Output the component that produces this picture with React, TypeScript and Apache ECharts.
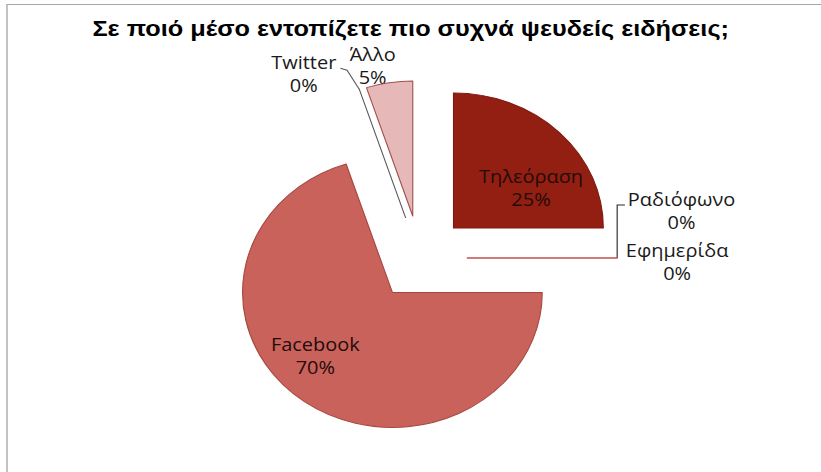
import React, { useEffect, useRef } from "react";
import * as echarts from "echarts";

// ---- data ----
const TITLE = "Σε ποιό μέσο εντοπίζετε πιο συχνά ψευδείς ειδήσεις;";
const categories = ["Τηλεόραση", "Ραδιόφωνο", "Εφημερίδα", "Facebook", "Twitter", "Άλλο"];
const values = [25, 0, 0, 70, 0, 5];

// ---- styles ----
const fillColors = ["#921f11", "#c0504d", "#c0504d", "#c9625b", "#7f7f7f", "#e6b9b8"];
const borderColors = ["#7d1a0e", "#c0504d", "#c0504d", "#a4483f", "#595959", "#a0504c"];
const labelInside = [true, false, false, true, false, false];
// label offsets (inside: relative to library anchor; outside: relative to slice's outer point)
const labelPlace: any[] = [
  { dx: 20, dy: 10 },
  { dx: 58, dy: -47, line: [[0, -53], [7, -53]] },
  { dx: 54, dy: 4 },
  { dx: -28, dy: 6 },
  { dx: -50, dy: -15, line: [[-11, -19], [-17, -21]] },
  { dx: -15, dy: -17 },
];

const PAGE_W = 821;
const PAGE_H = 472;
const STRETCH = 1.11;
const W = PAGE_W / STRETCH;
const CX = 378.5;
const CY = 258;
const RADIUS = 135;
const OFFSET = 42.5;
const START_ANGLE = 90;
const LABEL_FONT = "Open Sans";
const LABEL_SIZE = 18;
const LABEL_LH = 23;

export default function App() {
  const ref = useRef<HTMLDivElement>(null);
  useEffect(() => {
    const chart = echarts.init(ref.current!, null, { renderer: "svg" });
    const total = values.reduce((a, b) => a + b, 0);
    const cum: number[] = [];
    let c = 0;
    values.forEach((v) => {
      cum.push(c);
      c += v;
    });
    const midAngle = (i: number) =>
      ((START_ANGLE - (360 * (cum[i] + values[i] / 2)) / total) * Math.PI) / 180;
    const outerPoint = (i: number) => {
      const a = midAngle(i);
      const d = OFFSET + RADIUS;
      return [CX + d * Math.cos(a), CY - d * Math.sin(a)];
    };
    const pct = (i: number) => Math.round((values[i] / total) * 100);

    const outsideGraphics: any[] = [];
    categories.forEach((name, i) => {
      if (labelInside[i]) return;
      const L = labelPlace[i];
      const [ex, ey] = outerPoint(i);
      if (L.line) {
        outsideGraphics.push({
          type: "polyline",
          silent: true,
          shape: { points: [[ex, ey], ...L.line.map((q: number[]) => [ex + q[0], ey + q[1]])] },
          style: { stroke: i === 4 ? "#595959" : "#262626", fill: "none", lineWidth: 1 },
        });
      }
      outsideGraphics.push({
        type: "text",
        silent: true,
        x: ex + L.dx,
        y: ey + L.dy,
        style: {
          text: `${name}\n${pct(i)}%`,
          fontFamily: LABEL_FONT,
          fontSize: LABEL_SIZE,
          lineHeight: LABEL_LH,
          fill: "#1a1a1a",
          align: "center",
          verticalAlign: "middle",
        },
      });
    });

    chart.setOption({
      animation: false,
      backgroundColor: "#ffffff",
      title: {
        text: TITLE,
        left: "center",
        top: 19,
        padding: [0, 0, 0, 9],
        textStyle: {
          fontFamily: "Liberation Sans",
          fontWeight: "bold",
          fontSize: 22.8,
          lineHeight: 18,
          color: "#000000",
        },
      },
      graphic: [
        {
          type: "rect",
          shape: { x: 6.3, y: 4.5, width: 900, height: 700 },
          style: { fill: "none", stroke: "#a6a6a6", lineWidth: 1.2 },
          silent: true,
        },
        ...outsideGraphics,
      ],
      series: [
        {
          type: "pie",
          center: [CX, CY],
          radius: [0, RADIUS],
          startAngle: START_ANGLE,
          clockwise: true,
          selectedMode: "multiple",
          selectedOffset: OFFSET,
          avoidLabelOverlap: false,
          percentPrecision: 0,
          emphasis: { disabled: true },
          label: {
            formatter: "{b}\n{d}%",
            fontFamily: LABEL_FONT,
            fontSize: LABEL_SIZE,
            lineHeight: LABEL_LH,
            color: "#240c0a",
            align: "center",
          },
          labelLine: { show: false },
          labelLayout: (p: any) => {
            const L = labelPlace[p.dataIndex];
            return { dx: L.dx, dy: L.dy };
          },
          data: categories.map((name, i) => ({
            name,
            value: values[i],
            selected: true,
            itemStyle: { color: fillColors[i], borderColor: borderColors[i], borderWidth: 1 },
            select: {
              itemStyle: { color: fillColors[i], borderColor: borderColors[i], borderWidth: 1 },
            },
            label: { show: labelInside[i], position: "inside" },
            labelLine: { show: false },
          })),
        },
      ],
    });
    return () => chart.dispose();
  }, []);

  return (
    <div
      style={{
        position: "fixed",
        left: 0,
        top: 0,
        width: PAGE_W,
        height: PAGE_H,
        overflow: "hidden",
        background: "#ffffff",
      }}
    >
      <div
        ref={ref}
        style={{
          width: W,
          height: PAGE_H,
          transform: `scaleX(${STRETCH})`,
          transformOrigin: "0 0",
        }}
      />
    </div>
  );
}
